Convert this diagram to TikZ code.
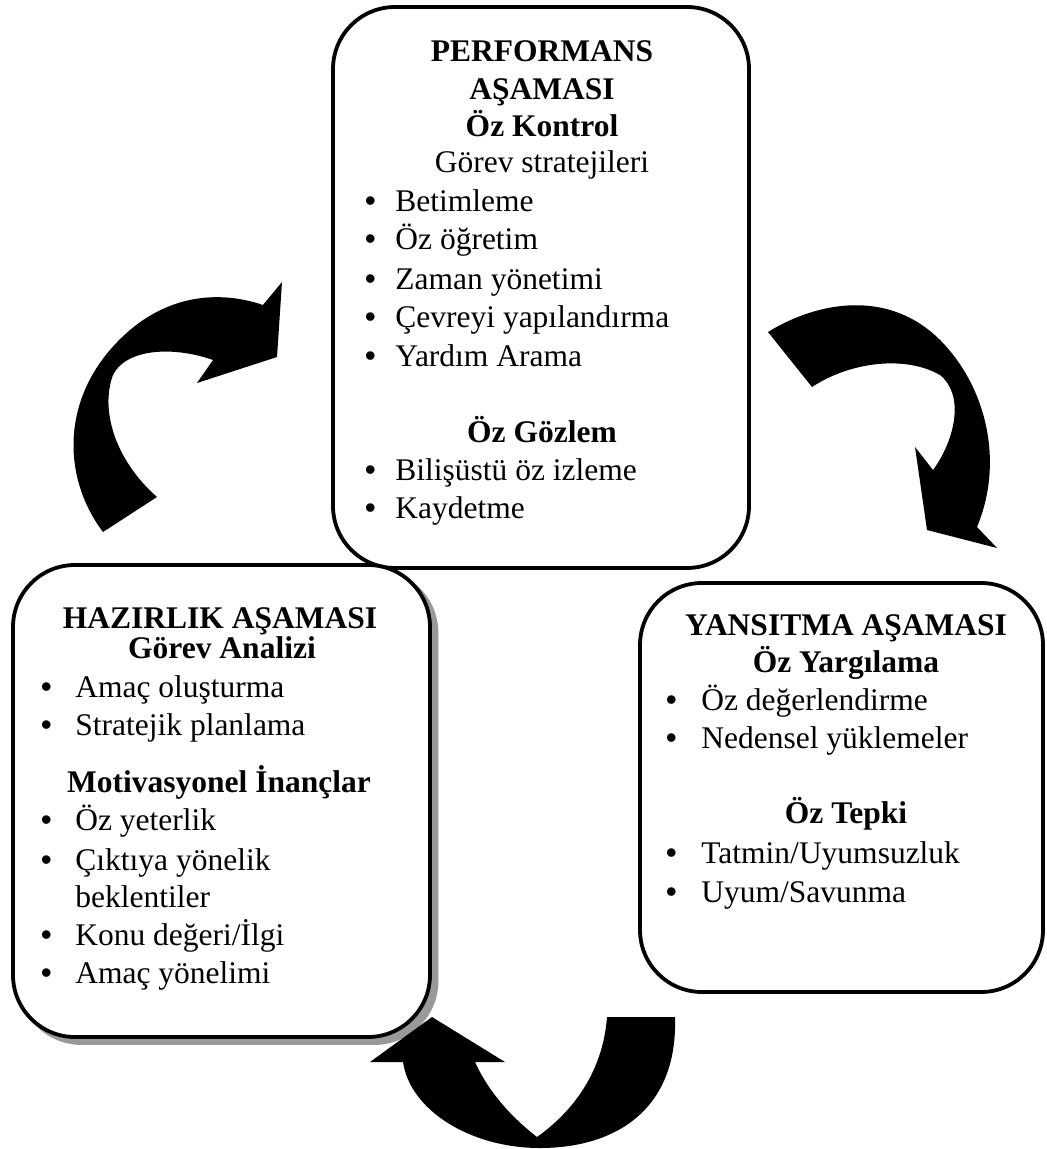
\documentclass[tikz,border=0pt]{standalone}
\usepackage{fontspec}
\setmainfont{Liberation Serif}
\newfontfamily\bulfont{Liberation Sans}
\newcommand\bulrow[2]{\makebox[#1][l]{\bulfont\textbullet}#2}
\begin{document}
\begin{tikzpicture}[x=0.5pt,y=-0.5pt,
  boxshape/.style={rectangle, rounded corners=31pt, inner sep=0pt},
  phasebox/.style={boxshape, draw=black, line width=1.9pt, fill=white},
  shadowbox/.style={boxshape, draw=black!40, line width=1.9pt, fill=black!40},
  txt/.style={inner sep=0pt, anchor=base, font=\fontsize{15.75pt}{19pt}\selectfont},
  hd/.style={txt, font=\fontsize{15.75pt}{19pt}\selectfont\bfseries},
  itm/.style={txt, anchor=base west},
  arrowfill/.style={fill=black}]
\useasboundingbox (0,0) rectangle (1047,1149);

% boxes
\node[phasebox, minimum width=208pt, minimum height=280.5pt] (topbox) at (541,287.5) {};
\node[shadowbox, minimum width=208.5pt, minimum height=236pt] (leftshadow) at (228,807) {};
\node[phasebox, minimum width=208.5pt, minimum height=236pt] (leftbox) at (221.5,801) {};
\node[phasebox, minimum width=201.5pt, minimum height=204.5pt] (rightbox) at (841.5,787.5) {};

% top box text
\node[hd] (t1) at (542,62) {PERFORMANS};
\node[hd] (t2) at (542,100) {AŞAMASI};
\node[hd] (t3) at (542,137) {Öz Kontrol};
\node[txt] (t4) at (542,173) {Görev stratejileri};
\node[itm] (ti1) at (364.5,212) {\bulrow{15.25pt}{Betimleme}};
\node[itm] (ti2) at (364.5,250) {\bulrow{15.25pt}{Öz öğretim}};
\node[itm] (ti3) at (364.5,290) {\bulrow{15.25pt}{Zaman yönetimi}};
\node[itm] (ti4) at (364.5,328) {\bulrow{15.25pt}{Çevreyi yapılandırma}};
\node[itm] (ti5) at (364.5,367) {\bulrow{15.25pt}{Yardım Arama}};
\node[hd] (t5) at (542,443) {Öz Gözlem};
\node[itm] (ti6) at (364.5,480) {\bulrow{15.25pt}{Bilişüstü öz izleme}};
\node[itm] (ti7) at (364.5,518) {\bulrow{15.25pt}{Kaydetme}};

% left box text
\node[hd] (l1) at (220,628) {HAZIRLIK AŞAMASI};
\node[hd] (l2) at (222,658) {Görev Analizi};
\node[itm] (li1) at (40.5,697) {\bulrow{17.25pt}{Amaç oluşturma}};
\node[itm] (li2) at (40.5,735) {\bulrow{17.25pt}{Stratejik planlama}};
\node[hd] (l3) at (219,792) {Motivasyonel İnançlar};
\node[itm] (li3) at (40.5,830) {\bulrow{17.25pt}{Öz yeterlik}};
\node[itm] (li4) at (40.5,870) {\bulrow{17.25pt}{Çıktıya yönelik}};
\node[itm] (li5) at (75,907) {beklentiler};
\node[itm] (li6) at (40.5,945) {\bulrow{17.25pt}{Konu değeri/İlgi}};
\node[itm] (li7) at (40.5,983) {\bulrow{17.25pt}{Amaç yönelimi}};

% right box text
\node[hd] (r1) at (846,635) {YANSITMA AŞAMASI};
\node[hd] (r2) at (846,672) {Öz Yargılama};
\node[itm] (ri1) at (665.5,710) {\bulrow{17.75pt}{Öz değerlendirme}};
\node[itm] (ri2) at (665.5,748) {\bulrow{17.75pt}{Nedensel yüklemeler}};
\node[hd] (r3) at (846,823) {Öz Tepki};
\node[itm] (ri3) at (665.5,863) {\bulrow{17.75pt}{Tatmin/Uyumsuzluk}};
\node[itm] (ri4) at (665.5,902) {\bulrow{17.75pt}{Uyum/Savunma}};

% curved block arrows
\fill[arrowfill] (103,532) .. controls (60,475) and (60,390) .. (130,330)
  .. controls (175,292) and (225,292) .. (263,305)
  -- (282,282) -- (277,357) -- (197,383) -- (213,360)
  .. controls (170,345) and (125,350) .. (113,375)
  .. controls (100,410) and (115,460) .. (157,497) -- cycle;

\fill[arrowfill] (768,332) .. controls (820,300) and (890,290) .. (940,340)
  .. controls (985,385) and (1005,460) .. (977,527)
  -- (997,548) -- (927,530) -- (915,447) -- (933,470)
  .. controls (955,440) and (965,395) .. (940,375)
  .. controls (905,355) and (850,362) .. (812,387) -- cycle;

\fill[arrowfill] (675,1017) .. controls (678,1110) and (615,1148) .. (540,1148)
  .. controls (470,1148) and (410,1110) .. (403,1062)
  -- (370,1062) -- (432,1017) -- (505,1062) -- (475,1062)
  .. controls (490,1095) and (515,1120) .. (537,1137)
  .. controls (575,1110) and (603,1070) .. (607,1017) -- cycle;
\end{tikzpicture}
\end{document}
